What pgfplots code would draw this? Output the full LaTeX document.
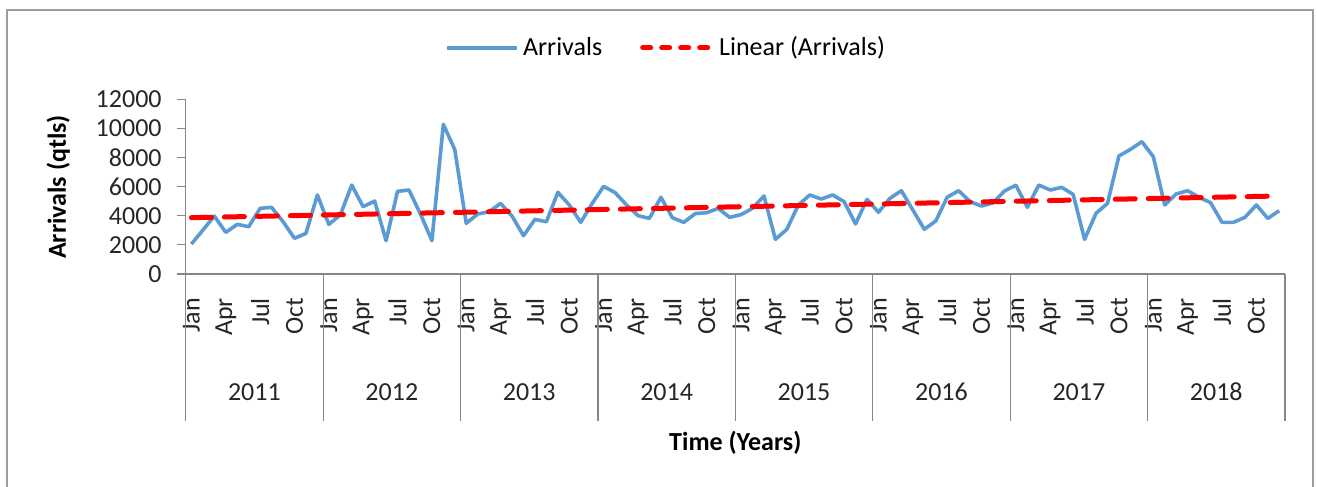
\documentclass[border=0pt]{standalone}
\usepackage{fontspec}
\setmainfont{Carlito}
\usepackage{pgfplots}
\pgfplotsset{compat=1.18}
\definecolor{arrblue}{HTML}{5B9BD5}
\definecolor{axgray}{HTML}{868686}

\begin{document}
\begin{tikzpicture}
\useasboundingbox (0,0) rectangle (658.5pt,-243.5pt);
\draw[axgray!80, line width=0.6pt] (3.5pt,-5pt) rectangle (656.5pt,-262pt);
\begin{axis}[
	at={(92.85pt,-137pt)}, anchor=south west,
	scale only axis,
	width=549.65pt, height=87.35pt,
	xmin=-0.5, xmax=95.5,
	ymin=0, ymax=12000,
	clip=false,
	axis lines*=left,
	axis line style={axgray, line width=0.6pt, -},
	tick align=outside,
	major tick length=4.5pt,
	xtick style={draw=none},
	ytick style={axgray, line width=0.6pt},
	ytick={0,2000,...,12000},
	scaled y ticks=false,
	font=\fontsize{13}{15}\selectfont,
	/pgf/number format/assume math mode=true,
	/pgf/number format/set thousands separator={},
	xtick={0,3,...,93},
	xticklabels={Jan,Apr,Jul,Oct,Jan,Apr,Jul,Oct,Jan,Apr,Jul,Oct,Jan,Apr,Jul,Oct,
		Jan,Apr,Jul,Oct,Jan,Apr,Jul,Oct,Jan,Apr,Jul,Oct,Jan,Apr,Jul,Oct},
	xticklabel style={rotate=90, anchor=east, text=black!85},
	xticklabel shift=4pt,
	yticklabel style={text=black!85, xshift=-4pt},
	xlabel={\bfseries Time (Years)},
	xlabel style={at={(axis description cs:0.5,-0.967)}, anchor=center},
	ylabel={\bfseries Arrivals (qtls)},
	ylabel style={at={(axis description cs:-0.116,0.498)}, anchor=center, rotate=0},
	legend style={at={(axis description cs:0.438,1.295)}, anchor=center, draw=none,
		legend columns=2, font=\fontsize{13}{15}\selectfont,
		/tikz/every even column/.append style={column sep=17pt}},
	legend image code/.code={\draw[#1] (0pt,0pt) -- (35pt,0pt);},
]
\addplot[arrblue, line width=1.8pt, line join=round] coordinates {
(0,2060)(1,3020)(2,3980)(3,2860)(4,3410)(5,3250)(6,4510)(7,4580)(8,3600)(9,2450)(10,2790)(11,5430)
(12,3410)(13,4050)(14,6110)(15,4620)(16,5010)(17,2290)(18,5680)(19,5770)(20,4120)(21,2290)(22,10280)(23,8540)
(24,3480)(25,4120)(26,4280)(27,4850)(28,3980)(29,2630)(30,3750)(31,3590)(32,5610)(33,4740)(34,3550)(35,4850)
(36,6020)(37,5590)(38,4740)(39,4010)(40,3820)(41,5270)(42,3870)(43,3550)(44,4150)(45,4210)(46,4510)(47,3890)
(48,4080)(49,4510)(50,5360)(51,2380)(52,3070)(53,4740)(54,5430)(55,5150)(56,5430)(57,4970)(58,3440)(59,5130)
(60,4240)(61,5200)(62,5720)(63,4400)(64,3070)(65,3640)(66,5270)(67,5720)(68,4970)(69,4670)(70,4880)(71,5700)
(72,6100)(73,4580)(74,6110)(75,5770)(76,5950)(77,5470)(78,2380)(79,4170)(80,4850)(81,8110)(82,8560)(83,9090)
(84,8060)(85,4740)(86,5500)(87,5720)(88,5270)(89,4900)(90,3550)(91,3550)(92,3890)(93,4740)(94,3820)(95,4350)
};
\addlegendentry{Arrivals}
\addplot[red, line width=2.5pt, line cap=round, dash pattern=on 10pt off 6.5pt,
	legend image code/.code={\draw[red, line width=2.5pt, line cap=round,
		dash pattern=on 4pt off 5.5pt] (0pt,0pt) -- (35pt,0pt);}] coordinates {
(0,3870)(95,5360)
};
\addlegendentry{Linear (Arrivals)}
\pgfplotsinvokeforeach{0,...,8}{
	\draw[axgray, line width=0.6pt] (axis cs:{12*#1-0.5},0) -- ++(0pt,-73.5pt);
}
\pgfplotsinvokeforeach{0,...,7}{
	\node[text=black!85, font=\fontsize{13}{15}\selectfont] at ([yshift=-59pt]axis cs:{12*#1+5.5},0) {\the\numexpr2011+#1\relax};
}
\end{axis}
\end{tikzpicture}
\end{document}
